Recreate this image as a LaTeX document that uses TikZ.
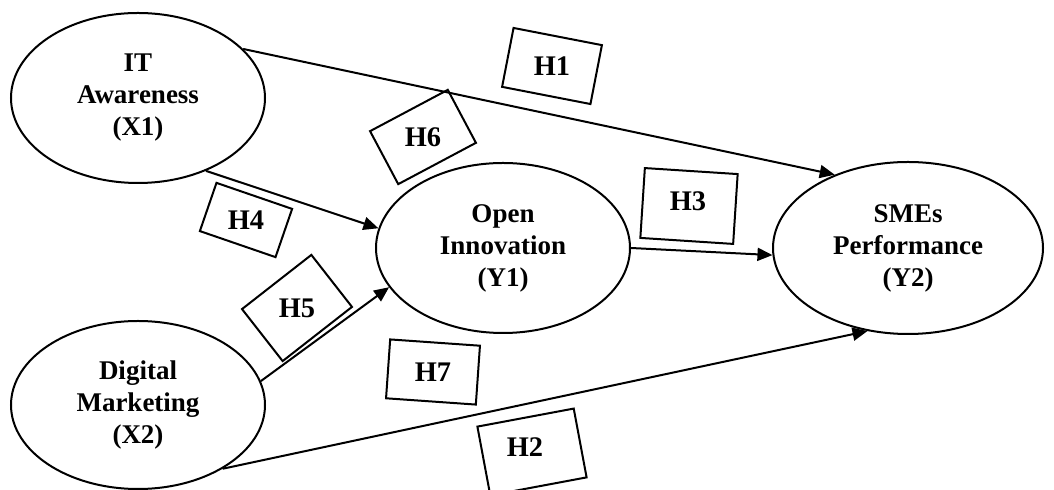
\documentclass[tikz,border=0pt]{standalone}
\usepackage{fontspec}
\setmainfont{Liberation Serif}
\usetikzlibrary{arrows.meta,shapes.geometric}
\tikzset{
  construct/.style={ellipse, draw, line width=1pt, inner sep=0pt, align=center,
    font=\fontsize{13.5}{16}\selectfont\bfseries},
  hbox/.style={rectangle, draw, line width=1pt, inner sep=0pt},
  hlabel/.style={font=\fontsize{14.2}{16}\selectfont\bfseries, inner sep=0pt},
  link/.style={line width=1pt, -{Triangle[length=7.5pt,width=6.5pt]}}
}
\begin{document}
\begin{tikzpicture}[x=0.5pt,y=-0.5pt]
\useasboundingbox (0,0) rectangle (1054,490);
% constructs
\node[construct, minimum width=127pt, minimum height=85pt] (x1) at (138,98) {IT\\Awareness\\(X1)};
\node[construct, minimum width=127pt, minimum height=84pt] (x2) at (138,405) {Digital\\Marketing\\(X2)};
\node[construct, minimum width=127pt, minimum height=85pt] (y1) at (503,248) {Open\\Innovation\\(Y1)};
\node[construct, minimum width=135pt, minimum height=86pt] (y2) at (908,248) {SMEs\\Performance\\(Y2)};
% paths
\draw[link] (x1.25.7) -- (y2.135);
\draw[link] (x1.-47) -- (y1.171.7);
\draw[link] (x2.11.7) -- (y1.199);
\draw[link] (y1.0) -- (y2.183.4);
\draw[link] (x2.-37.4) -- (y2.244.5);
% hypothesis boxes
\node[hbox, rotate=-11, minimum width=45pt, minimum height=30pt] (h1) at (552,66) {};
\node[hlabel] (t1) at (h1) {H1};
\node[hbox, rotate=28, minimum width=44pt, minimum height=30pt] (h6) at (423,137) {};
\node[hlabel] (t6) at (h6) {H6};
\node[hbox, rotate=-19, minimum width=40pt, minimum height=25.5pt] (h4) at (246,220) {};
\node[hlabel] (t4) at (h4) {H4};
\node[hbox, rotate=38, minimum width=44pt, minimum height=33pt] (h5) at (297,308) {};
\node[hlabel] (t5) at (h5) {H5};
\node[hbox, rotate=-4, minimum width=45pt, minimum height=29.5pt] (h7) at (433,372) {};
\node[hlabel] (t7) at (h7) {H7};
\node[hbox, rotate=-3.7, minimum width=46.5pt, minimum height=35pt] (h3) at (689,206) {};
\node[hlabel] (t3) at (688,201) {H3};
\node[hbox, rotate=10.6, minimum width=49pt, minimum height=35pt] (h2) at (532,452) {};
\node[hlabel] (t2) at (525,447) {H2};
\end{tikzpicture}
\end{document}
